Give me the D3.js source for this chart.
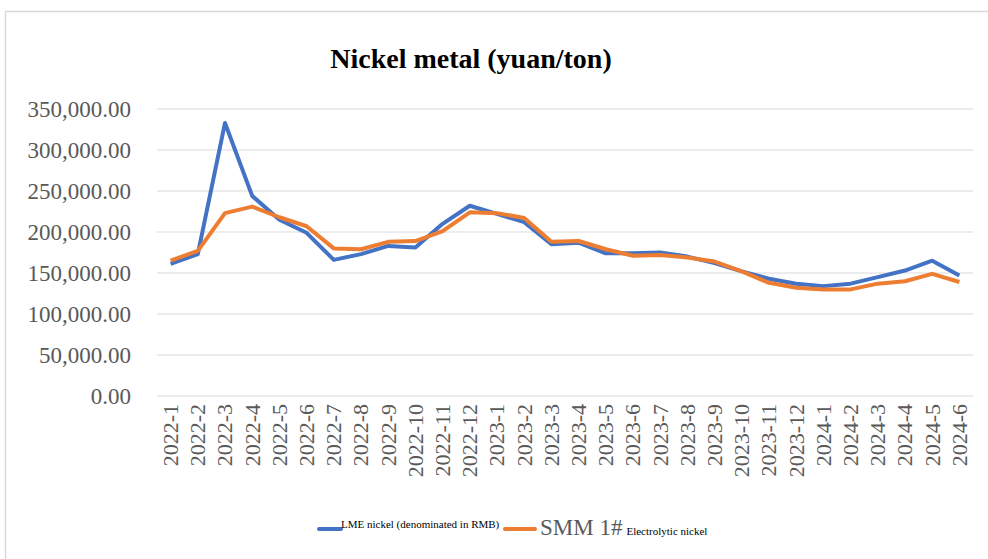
<!DOCTYPE html>
<html>
<head>
<meta charset="utf-8">
<script src="https://cdn.jsdelivr.net/npm/d3@7"></script>
<style>
  body { margin: 0; background: #fff; }
  svg { display: block; font-family: "Liberation Serif", "Times New Roman", serif; }
</style>
</head>
<body>
<svg id="chart" width="988" height="559"></svg>
<script>
// months on the x axis
const months = [
  "2022-1", "2022-2", "2022-3", "2022-4", "2022-5", "2022-6", "2022-7", "2022-8", "2022-9", "2022-10", "2022-11", "2022-12",
  "2023-1", "2023-2", "2023-3", "2023-4", "2023-5", "2023-6", "2023-7", "2023-8", "2023-9", "2023-10", "2023-11", "2023-12",
  "2024-1", "2024-2", "2024-3", "2024-4", "2024-5", "2024-6"
];

const lmeNickel = [
  161000, 173000, 333000, 244000, 215000, 199000, 166000, 173000, 183000, 181000, 210000, 232000,
  222000, 212000, 185000, 187000, 174000, 174000, 175000, 170000, 162000, 152000, 143000, 137000,
  134000, 137000, 145000, 153000, 165000, 147000
];

const smmNickel = [
  165000, 177000, 223000, 231000, 218000, 207000, 180000, 179000, 188000, 189000, 201000, 224000,
  223000, 217000, 188000, 189000, 179000, 171000, 172000, 169000, 164000, 152000, 138000, 132000,
  130000, 130000, 137000, 140000, 149000, 139000
];

const yTicks = [0, 50000, 100000, 150000, 200000, 250000, 300000, 350000];

const svg = d3.select("#chart");
const margin = { top: 109, right: 15, bottom: 163, left: 157 };
const width = 988 - margin.left - margin.right;
const height = 559 - margin.top - margin.bottom;

// outer frame
svg.append("rect")
  .attr("x", 5.5).attr("y", 11.5)
  .attr("width", 1000).attr("height", 600)
  .attr("fill", "none")
  .attr("stroke", "#d9d9d9")
  .attr("stroke-width", 1.5);

svg.append("text")
  .attr("x", 471).attr("y", 68)
  .attr("text-anchor", "middle")
  .style("font-size", "28px")
  .style("font-weight", "bold")
  .text("Nickel metal (yuan/ton)");

const g = svg.append("g").attr("transform", `translate(${margin.left},${margin.top})`);

const x = d3.scaleBand().domain(months).range([0, width]);
const y = d3.scaleLinear().domain([0, 350000]).range([height, 0]);

// grid
g.append("g")
  .selectAll("line")
  .data(yTicks)
  .join("line")
  .attr("x1", 0).attr("x2", width)
  .attr("y1", (d) => y(d)).attr("y2", (d) => y(d))
  .attr("stroke", "#d9d9d9")
  .attr("stroke-width", 1);

const fmt = d3.format(",.2f");

const yAxis = g.append("g")
  .call(d3.axisLeft(y).tickValues(yTicks).tickSize(0).tickPadding(26).tickFormat(fmt));
yAxis.select(".domain").remove();
yAxis.selectAll("text")
  .attr("dy", "0.34em")
  .style("font-family", "Liberation Serif, serif")
  .style("font-size", "23px")
  .style("fill", "#595959");

const xAxis = g.append("g")
  .attr("transform", `translate(0,${height})`)
  .call(d3.axisBottom(x).tickSize(0));
xAxis.select(".domain").remove();
xAxis.selectAll("text")
  .attr("transform", "rotate(-90)")
  .attr("x", -8)
  .attr("y", 0)
  .attr("dy", "0.34em")
  .attr("text-anchor", "end")
  .style("font-family", "Liberation Serif, serif")
  .style("font-size", "22px")
  .style("fill", "#595959");

const line = d3.line()
  .x((d, i) => x(months[i]) + x.bandwidth() / 2)
  .y((d) => y(d));

g.append("path")
  .datum(lmeNickel)
  .attr("fill", "none")
  .attr("stroke", "#4472C4")
  .attr("stroke-width", 4)
  .attr("stroke-linejoin", "round")
  .attr("d", line);

g.append("path")
  .datum(smmNickel)
  .attr("fill", "none")
  .attr("stroke", "#ED7D31")
  .attr("stroke-width", 4)
  .attr("stroke-linejoin", "round")
  .attr("d", line);

// legend
const legend = svg.append("g");
legend.append("line")
  .attr("x1", 319).attr("x2", 341).attr("y1", 529).attr("y2", 529)
  .attr("stroke", "#4472C4").attr("stroke-width", 4).attr("stroke-linecap", "round");
legend.append("text")
  .attr("x", 341).attr("y", 528)
  .style("font-size", "11px")
  .text("LME nickel (denominated in RMB)");

legend.append("line")
  .attr("x1", 505).attr("x2", 535).attr("y1", 529).attr("y2", 529)
  .attr("stroke", "#ED7D31").attr("stroke-width", 4).attr("stroke-linecap", "round");
const t2 = legend.append("text").attr("x", 540).attr("y", 535);
t2.append("tspan").style("font-size", "23px").style("fill", "#595959").text("SMM 1#");
t2.append("tspan").attr("dx", 4).style("font-size", "11px").text("Electrolytic nickel");
</script>
</body>
</html>
